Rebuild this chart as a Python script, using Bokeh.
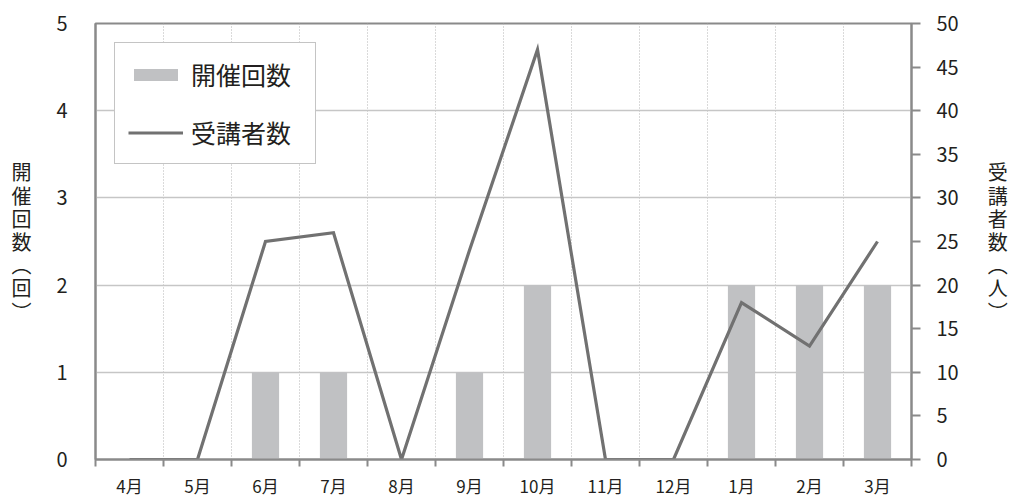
from bokeh.plotting import figure
from bokeh.models import (Range1d, LinearAxis, FixedTicker, Legend, LegendItem,
                          ColumnDataSource)
from bokeh.embed import file_html
from bokeh.resources import INLINE

# Monthly data (fiscal year April - March)
months = ["4月", "5月", "6月", "7月", "8月", "9月", "10月", "11月", "12月", "1月", "2月", "3月"]
sessions = [0, 0, 1, 1, 0, 1, 2, 0, 0, 2, 2, 2]          # 開催回数 (left axis)
attendees = [0, 0, 25, 26, 0, 24, 47, 0, 0, 18, 13, 25]  # 受講者数 (right axis)
left_ticks = [0, 1, 2, 3, 4, 5]
right_ticks = [0, 5, 10, 15, 20, 25, 30, 35, 40, 45, 50]

FONT = "Noto Sans CJK JP"
TEXT = "#231f20"
AXIS = "#8a8a8a"
BAR = "#c0c1c3"
LINE = "#717171"

centers = [i + 0.5 for i in range(len(months))]
edges = list(range(len(months) + 1))

src = ColumnDataSource(dict(x=centers, sessions=sessions, attendees=attendees))

p = figure(width=1011, height=500, output_backend="svg", toolbar_location=None,
           x_range=Range1d(0, len(months)), y_range=Range1d(0, 5),
           min_border_left=95, min_border_right=100, min_border_top=23,
           min_border_bottom=37, background_fill_color="white",
           border_fill_color="white")
p.extra_y_ranges = {"people": Range1d(0, 50)}
p.outline_line_color = AXIS
p.outline_line_width = 2

bars = p.vbar(x="x", top="sessions", width=0.4, source=src,
              fill_color=BAR, line_color=None)
line = p.line(x="x", y="attendees", source=src, y_range_name="people",
              line_color=LINE, line_width=3.2, line_join="miter")

# x axis: labels at month centres, tick marks on month boundaries
xa = p.xaxis[0]
xa.ticker = FixedTicker(ticks=centers, minor_ticks=edges)
xa.major_label_overrides = {c: m for c, m in zip(centers, months)}
xa.major_tick_line_color = None
xa.minor_tick_in = 0
xa.minor_tick_out = 7
xa.minor_tick_line_color = AXIS
xa.minor_tick_line_width = 2
xa.axis_line_color = AXIS
xa.axis_line_width = 2
xa.major_label_standoff = 6
xa.major_label_text_font = FONT
xa.major_label_text_font_size = "17px"
xa.major_label_text_color = TEXT

# left axis: number of sessions
ya = p.yaxis[0]
ya.ticker = FixedTicker(ticks=left_ticks)
ya.major_tick_line_color = None
ya.minor_tick_line_color = None
ya.major_tick_out = 0
ya.major_tick_in = 0
ya.axis_line_color = AXIS
ya.axis_line_width = 2
ya.major_label_standoff = 28
ya.major_label_text_font = FONT
ya.major_label_text_font_size = "20px"
ya.major_label_text_color = TEXT
ya.axis_label = "\n".join(["開", "催", "回", "数", "︵", "回", "︶"])
ya.axis_label_orientation = "horizontal"
ya.axis_label_standoff = 22
ya.axis_label_text_font = FONT
ya.axis_label_text_font_size = "20px"
ya.axis_label_text_font_style = "normal"
ya.axis_label_text_color = TEXT
ya.axis_label_text_line_height = 0.8

# right axis: number of attendees
ra = LinearAxis(y_range_name="people", ticker=FixedTicker(ticks=right_ticks))
ra.major_tick_in = 0
ra.major_tick_out = 9
ra.major_tick_line_color = AXIS
ra.major_tick_line_width = 2
ra.minor_tick_line_color = None
ra.axis_line_color = AXIS
ra.axis_line_width = 2
ra.major_label_standoff = 16
ra.major_label_text_font = FONT
ra.major_label_text_font_size = "20px"
ra.major_label_text_color = TEXT
ra.axis_label = "\n".join(["受", "講", "者", "数", "︵", "人", "︶"])
ra.axis_label_orientation = "horizontal"
ra.axis_label_standoff = 26
ra.axis_label_text_font = FONT
ra.axis_label_text_font_size = "20px"
ra.axis_label_text_font_style = "normal"
ra.axis_label_text_color = TEXT
ra.axis_label_text_line_height = 0.8
p.add_layout(ra, "right")

# grids: solid horizontal lines, dotted month separators
p.ygrid.grid_line_color = "#c6c6c6"
p.ygrid.grid_line_width = 1.5
p.xgrid.ticker = FixedTicker(ticks=edges[1:-1])
p.xgrid.grid_line_color = "#b4b4b4"
p.xgrid.grid_line_width = 1
p.xgrid.grid_line_dash = "1 2"

legend = Legend(items=[LegendItem(label="開催回数", renderers=[bars]),
                       LegendItem(label="受講者数", renderers=[line])],
                location="top_left", margin=19, padding=13, spacing=22,
                glyph_width=55, glyph_height=15, label_standoff=8,
                label_width=111,
                label_text_font=FONT, label_text_font_size="25px",
                label_text_color=TEXT, border_line_color=AXIS,
                border_line_width=1.5, background_fill_alpha=1.0)
p.add_layout(legend)

open("out.html", "w").write(file_html(p, INLINE))
